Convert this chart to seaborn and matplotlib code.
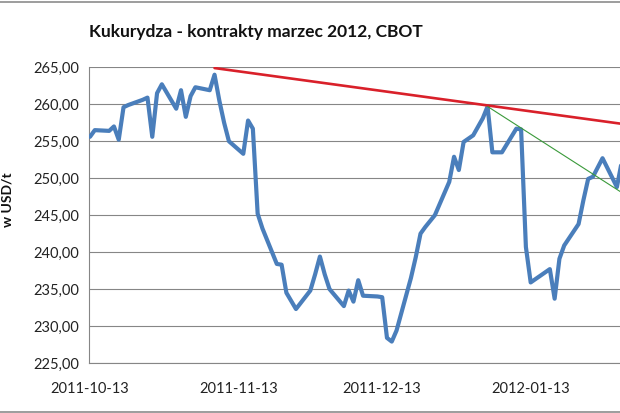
import matplotlib
matplotlib.use("Agg")
import matplotlib.pyplot as plt
import matplotlib.dates as mdates
from matplotlib.ticker import FuncFormatter, MultipleLocator
from matplotlib.lines import Line2D
import pandas as pd
import seaborn as sns

# ---- data ----
dates = [
    "2011-10-13", "2011-10-14", "2011-10-17", "2011-10-18", "2011-10-19", "2011-10-20",
    "2011-10-21", "2011-10-24", "2011-10-25", "2011-10-26", "2011-10-27", "2011-10-28",
    "2011-10-31", "2011-11-01", "2011-11-02", "2011-11-03", "2011-11-04", "2011-11-07",
    "2011-11-08", "2011-11-09", "2011-11-10", "2011-11-11", "2011-11-14", "2011-11-15",
    "2011-11-16", "2011-11-17", "2011-11-18", "2011-11-21", "2011-11-22", "2011-11-23",
    "2011-11-25", "2011-11-28", "2011-11-29", "2011-11-30", "2011-12-01", "2011-12-02",
    "2011-12-05", "2011-12-06", "2011-12-07", "2011-12-08", "2011-12-09", "2011-12-12",
    "2011-12-13", "2011-12-14", "2011-12-15", "2011-12-16", "2011-12-19", "2011-12-20",
    "2011-12-21", "2011-12-22", "2011-12-24", "2011-12-27", "2011-12-28", "2011-12-29",
    "2011-12-30", "2012-01-01", "2012-01-03", "2012-01-04", "2012-01-05", "2012-01-07",
    "2012-01-10", "2012-01-11", "2012-01-12", "2012-01-13", "2012-01-17", "2012-01-18",
    "2012-01-19", "2012-01-20", "2012-01-23", "2012-01-24", "2012-01-25", "2012-01-26",
    "2012-01-28", "2012-01-31", "2012-02-01",
]
prices = [
    255.6, 256.5, 256.4, 257.0, 255.2, 259.6,
    259.9, 260.6, 260.9, 255.6, 261.5, 262.7,
    259.4, 261.9, 258.3, 261.1, 262.3, 261.9,
    264.0, 260.5, 257.5, 255.0, 253.3, 257.8,
    256.7, 245.2, 243.2, 238.4, 238.3, 234.5,
    232.3, 234.8, 237.0, 239.4, 237.0, 235.0,
    232.7, 234.8, 233.3, 236.2, 234.1, 234.0,
    233.9, 228.4, 227.9, 229.4, 236.5, 239.3,
    242.5, 243.4, 245.0, 249.5, 252.9, 251.1,
    254.9, 255.8, 258.1, 259.7, 253.5, 253.5,
    256.7, 256.6, 240.7, 235.9, 237.7, 233.7,
    239.1, 240.9, 243.8, 247.0, 249.9, 250.2,
    252.7, 248.8, 252.2,
]

red_trend_dates = ["2011-11-08", "2012-02-05"]
red_trend_values = [264.9, 257.0]
green_trend_dates = ["2012-01-04", "2012-02-05"]
green_trend_values = [259.7, 246.4]

title = "Kukurydza - kontrakty marzec 2012, CBOT"
y_label = "w USD/t"
x_tick_labels = ["2011-10-13", "2011-11-13", "2011-12-13", "2012-01-13"]
y_min, y_max, y_step = 225, 265, 5

# ---- figure ----
sns.set_style("white")
plt.rcParams["font.family"] = ["Lato", "DejaVu Sans"]

W, H = 620, 413
fig = plt.figure(figsize=(W / 100, H / 100), dpi=100)

left_px, top_px, bottom_px = 89, 67.3, 363
ax = fig.add_axes([left_px / W, 1 - bottom_px / H, 1 - left_px / W, (bottom_px - top_px) / H])

df = pd.DataFrame({"date": pd.to_datetime(dates), "price": prices})
red = pd.DataFrame({"date": pd.to_datetime(red_trend_dates), "v": red_trend_values})
green = pd.DataFrame({"date": pd.to_datetime(green_trend_dates), "v": green_trend_values})

sns.lineplot(data=df, x="date", y="price", ax=ax, color="#4A7EBB", linewidth=3.0,
             solid_joinstyle="round", solid_capstyle="round", zorder=3)
sns.lineplot(data=red, x="date", y="v", ax=ax, color="#D9202A", linewidth=1.9, zorder=4)
sns.lineplot(data=green, x="date", y="v", ax=ax, color="#3A9A3A", linewidth=0.8, zorder=4)

origin = mdates.date2num(pd.Timestamp(x_tick_labels[0]))
px_per_day = 4.79
ax.set_xlim(origin - (90 - left_px) / px_per_day, origin + (W - 90) / px_per_day)
ax.set_ylim(y_min, y_max)

ax.set_xticks([mdates.date2num(pd.Timestamp(t)) for t in x_tick_labels])
ax.set_xticklabels(x_tick_labels)
ax.yaxis.set_major_locator(MultipleLocator(y_step))
ax.yaxis.set_major_formatter(FuncFormatter(lambda v, p: f"{v:.2f}".replace(".", ",")))

ax.tick_params(axis="both", length=0, labelsize=10.5, colors="#222222")
ax.tick_params(axis="y", pad=7)
ax.tick_params(axis="x", pad=14)

ax.grid(axis="y", color="#868686", linewidth=0.8)
ax.grid(axis="x", visible=False)
ax.set_axisbelow(True)
for s in ["top", "right"]:
    ax.spines[s].set_visible(False)
for s in ["left", "bottom"]:
    ax.spines[s].set_color("#868686")
    ax.spines[s].set_linewidth(0.8)

ax.set_xlabel("")
ax.set_ylabel("")

fig.text(256 / W, 1 - 32 / H, title, ha="center", va="center", fontsize=12.5,
         fontweight="bold", color="#111111")
fig.text(8 / W, 1 - 200 / H, y_label, rotation=90, ha="center", va="center",
         fontsize=10, fontweight="bold", color="#111111")

# outer chart border (top and bottom visible in the crop)
for ypx in (1.5, 411.5):
    fig.add_artist(Line2D([0, 1], [1 - ypx / H, 1 - ypx / H], transform=fig.transFigure,
                          color="#8C8C8C", linewidth=1.2))

fig.savefig("out.png", dpi=100)
